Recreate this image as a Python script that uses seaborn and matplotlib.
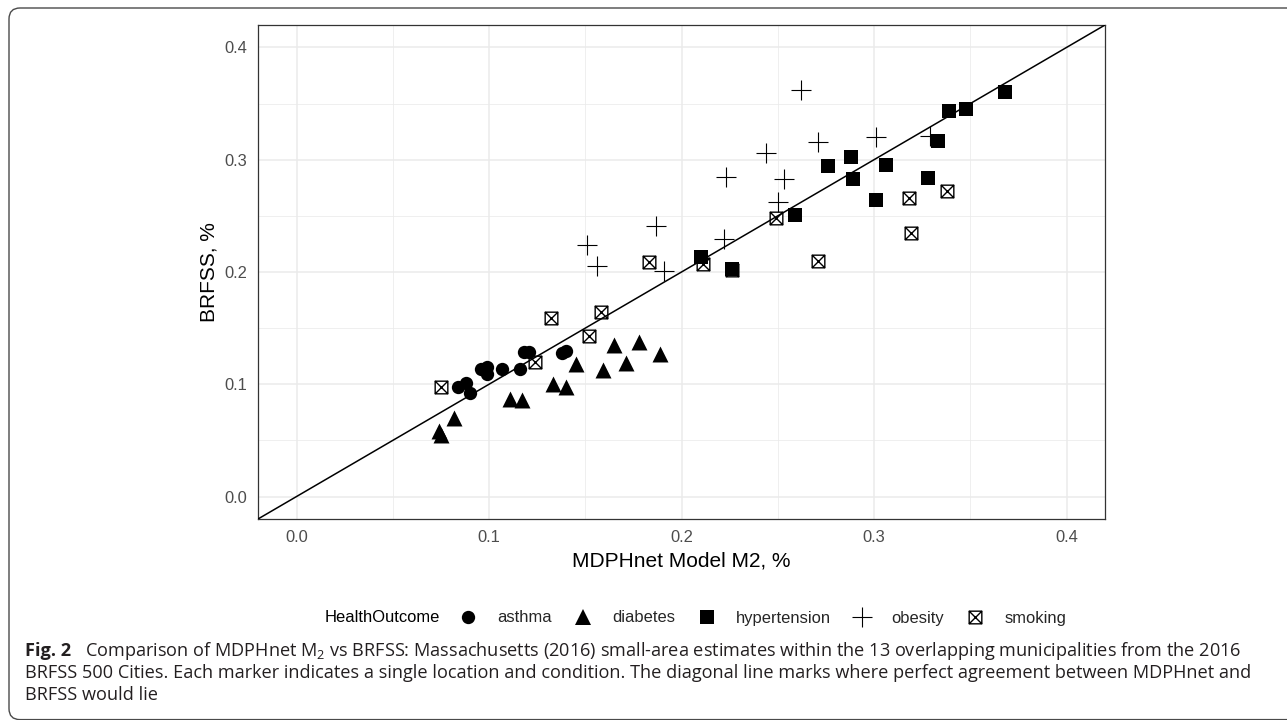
import numpy as np
import pandas as pd
import matplotlib
matplotlib.use("Agg")
import matplotlib.pyplot as plt
import seaborn as sns
from matplotlib.path import Path
from matplotlib.patches import FancyBboxPatch
from matplotlib.lines import Line2D
from matplotlib.transforms import IdentityTransform

# ---------------- data ----------------
outcomes = ["asthma", "diabetes", "hypertension", "obesity", "smoking"]

asthma_x = [0.084, 0.088, 0.090, 0.096, 0.099, 0.099, 0.107, 0.116, 0.118, 0.121, 0.138, 0.140]
asthma_y = [0.098, 0.101, 0.092, 0.114, 0.115, 0.109, 0.114, 0.114, 0.129, 0.129, 0.128, 0.130]

diabetes_x = [0.074, 0.075, 0.082, 0.111, 0.117, 0.133, 0.140, 0.145, 0.159, 0.165, 0.171, 0.178, 0.189]
diabetes_y = [0.058, 0.055, 0.070, 0.087, 0.086, 0.100, 0.098, 0.118, 0.113, 0.135, 0.119, 0.138, 0.127]

hypertension_x = [0.210, 0.226, 0.259, 0.276, 0.288, 0.289, 0.306, 0.301, 0.328, 0.333, 0.339, 0.348, 0.368]
hypertension_y = [0.213, 0.203, 0.251, 0.294, 0.302, 0.283, 0.295, 0.264, 0.284, 0.317, 0.343, 0.345, 0.360]

obesity_x = [0.262, 0.271, 0.301, 0.244, 0.223, 0.253, 0.250, 0.187, 0.222, 0.191, 0.329, 0.151, 0.156]
obesity_y = [0.362, 0.316, 0.320, 0.306, 0.285, 0.283, 0.262, 0.241, 0.229, 0.201, 0.321, 0.224, 0.205]

smoking_x = [0.075, 0.132, 0.158, 0.152, 0.124, 0.183, 0.211, 0.226, 0.249, 0.271, 0.318, 0.319, 0.338]
smoking_y = [0.098, 0.159, 0.164, 0.143, 0.120, 0.209, 0.207, 0.202, 0.248, 0.210, 0.266, 0.235, 0.272]

tick_values = [0.0, 0.1, 0.2, 0.3, 0.4]
tick_labels = ["0.0", "0.1", "0.2", "0.3", "0.4"]

caption_bold = "Fig. 2"
caption_line1 = r"Comparison of MDPHnet M$_\mathregular{2}$ vs BRFSS: Massachusetts (2016) small-area estimates within the 13 overlapping municipalities from the 2016"
caption_line2 = "BRFSS 500 Cities. Each marker indicates a single location and condition. The diagonal line marks where perfect agreement between MDPHnet and"
caption_line3 = "BRFSS would lie"

xs = [asthma_x, diabetes_x, hypertension_x, obesity_x, smoking_x]
ys = [asthma_y, diabetes_y, hypertension_y, obesity_y, smoking_y]
df = pd.concat(
    [pd.DataFrame({"MDPHnet": x, "BRFSS": y, "HealthOutcome": o}) for o, x, y in zip(outcomes, xs, ys)],
    ignore_index=True,
)

# ---------------- style ----------------
sns.set_style("white")
plt.rcParams["font.family"] = ["Liberation Sans", "DejaVu Sans"]
plt.rcParams["mathtext.fontset"] = "custom"
plt.rcParams["mathtext.rm"] = "Open Sans"

W, H = 1287, 720
fig = plt.figure(figsize=(W / 100, H / 100), dpi=100)
ax = fig.add_axes([258 / W, 1 - 519 / H, 847 / W, 494 / H])

# box-cross marker (ggplot shape 7)
bc_verts = [(-1, -1), (1, -1), (1, 1), (-1, 1), (-1, -1),
            (-1, -1), (1, 1), (-1, 1), (1, -1)]
bc_codes = [Path.MOVETO, Path.LINETO, Path.LINETO, Path.LINETO, Path.CLOSEPOLY,
            Path.MOVETO, Path.LINETO, Path.MOVETO, Path.LINETO]
boxcross = Path(bc_verts, bc_codes)

styles = {
    "smoking":      dict(marker=boxcross, s=83, facecolor="white", edgecolor="black", linewidth=1.0, zorder=3),
    "obesity":      dict(marker="+", s=207, color="black", linewidth=0.8, zorder=4),
    "asthma":       dict(marker="o", s=92, color="black", edgecolor="black", linewidth=0, zorder=5),
    "diabetes":     dict(marker="^", s=132, color="black", edgecolor="black", linewidth=0, zorder=5),
    "hypertension": dict(marker="s", s=92, color="black", edgecolor="black", linewidth=0, zorder=6),
}

for o in ["smoking", "obesity", "asthma", "diabetes", "hypertension"]:
    sns.scatterplot(data=df[df["HealthOutcome"] == o], x="MDPHnet", y="BRFSS",
                    ax=ax, legend=False, **styles[o])

ax.axline((0, 0), slope=1, color="black", linewidth=1.1, zorder=7)

ax.set_xlim(-0.02, 0.42)
ax.set_ylim(-0.02, 0.42)
ax.set_xticks(tick_values)
ax.set_xticklabels(tick_labels)
ax.set_yticks(tick_values)
ax.set_yticklabels(tick_labels)
minors = [0.05, 0.15, 0.25, 0.35]
ax.set_xticks(minors, minor=True)
ax.set_yticks(minors, minor=True)
ax.grid(which="major", color="#EBEBEB", linewidth=1.1)
ax.grid(which="minor", color="#EBEBEB", linewidth=0.55)
ax.set_axisbelow(True)
for sp in ax.spines.values():
    sp.set_color("#333333")
    sp.set_linewidth(0.9)
ax.tick_params(which="major", length=3.5, width=0.8, color="#333333",
               labelcolor="#4D4D4D", labelsize=11.9, pad=4.2)
ax.tick_params(which="minor", length=0)
ax.set_xlabel("MDPHnet Model M2, %", fontsize=15, color="black", labelpad=5)
ax.set_ylabel("BRFSS, %", fontsize=15, color="black", labelpad=4)

# ---------------- legend ----------------
leg_fs = 11.9
handles = []
for o in outcomes:
    st = styles[o]
    ms = np.sqrt(st["s"])
    if o == "smoking":
        h = Line2D([], [], linestyle="none", marker=boxcross, markersize=ms,
                   markerfacecolor="white", markeredgecolor="black", markeredgewidth=1.0)
    elif o == "obesity":
        h = Line2D([], [], linestyle="none", marker="+", markersize=ms,
                   color="black", markeredgewidth=0.8)
    else:
        h = Line2D([], [], linestyle="none", marker=st["marker"], markersize=ms,
                   color="black", markeredgewidth=0)
    handles.append(h)

leg = fig.legend(handles, outcomes, loc="center left", ncol=5, frameon=False,
                 bbox_to_anchor=(458 / W, 1 - 618 / H), borderpad=0, borderaxespad=0,
                 handlelength=1.2, handletextpad=1.16, columnspacing=1.3,
                 prop={"family": "Liberation Sans", "size": leg_fs})
fig.canvas.draw()
r = fig.canvas.get_renderer()
# align the legend title baseline with the legend labels
lab0 = leg.get_texts()[0]
lab_bb = lab0.get_window_extent(r)
title = fig.text(440 / W, lab_bb.y0 / H, "HealthOutcome", ha="right", va="bottom",
                 fontsize=leg_fs, color="black")

# ---------------- caption ----------------
cap_color = "#231f20"
cap_family = "Open Sans"
x0 = 25
base = [656.5, 678, 699.5]


def make_caption(fs):
    tb = fig.text(x0 / W, 1 - base[0] / H, caption_bold, ha="left", va="baseline",
                  fontsize=fs, fontweight="bold", family=cap_family, color=cap_color)
    wb = tb.get_window_extent(r).width
    gap = 14 * fs / 13.0
    t1 = fig.text((x0 + wb + gap) / W, 1 - base[0] / H, caption_line1, ha="left",
                  va="baseline", fontsize=fs, family=cap_family, color=cap_color)
    t2 = fig.text(x0 / W, 1 - base[1] / H, caption_line2, ha="left", va="baseline",
                  fontsize=fs, family=cap_family, color=cap_color)
    t3 = fig.text(x0 / W, 1 - base[2] / H, caption_line3, ha="left", va="baseline",
                  fontsize=fs, family=cap_family, color=cap_color)
    return [tb, t1, t2, t3]


fs0 = 13.0
ts = make_caption(fs0)
right = ts[1].get_window_extent(r).x1
for t in ts:
    t.remove()
fs = fs0 * (1240 - x0) / (right - x0)
make_caption(fs)

# ---------------- outer rounded frame ----------------
frame = FancyBboxPatch((9, 0.4), 1300, 711.6, boxstyle="round,pad=0,rounding_size=11",
                       transform=IdentityTransform(), fill=False,
                       edgecolor="#4a4a4a", linewidth=1.0)
fig.add_artist(frame)

fig.savefig("out.png", dpi=100)
